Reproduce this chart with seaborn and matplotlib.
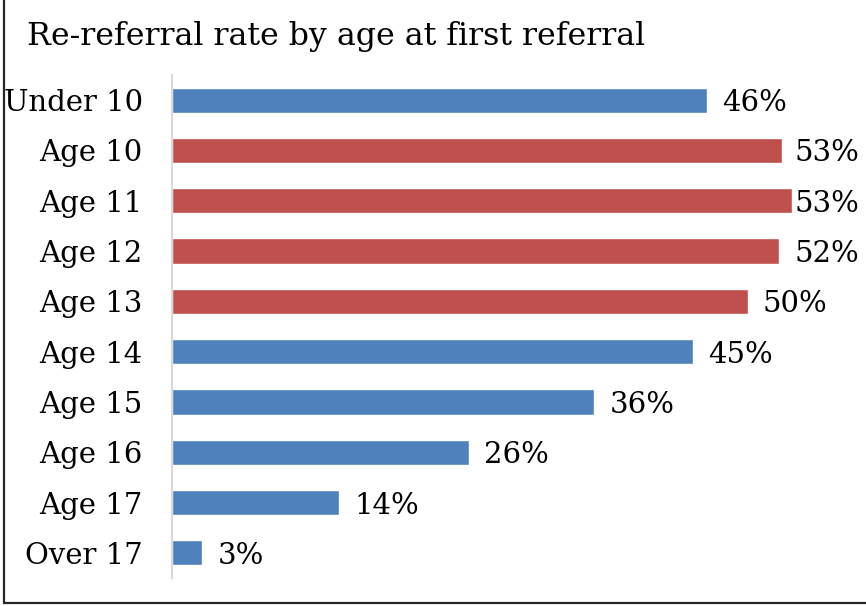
import matplotlib
matplotlib.use('Agg')
import matplotlib.pyplot as plt
import matplotlib.lines as mlines
import pandas as pd
import seaborn as sns

# Dados
ages = ['Under 10', 'Age 10', 'Age 11', 'Age 12', 'Age 13',
        'Age 14', 'Age 15', 'Age 16', 'Age 17', 'Over 17']
rates = [46.1, 52.6, 53.4, 52.3, 49.6, 44.9, 36.4, 25.6, 14.4, 2.6]
groups = ['other', 'peak', 'peak', 'peak', 'peak',
          'other', 'other', 'other', 'other', 'other']

BLUE = '#4F81BD'
RED = '#C0504D'
FS = 21

df = pd.DataFrame({'age': ages, 'rate': rates, 'group': groups})

sns.set_style('white')
plt.rcParams['font.family'] = ['DejaVu Serif']

fig = plt.figure(figsize=(8.66, 6.06), dpi=100)
ax = fig.add_axes([172 / 866, 1 - 578 / 606, 1 - 172 / 866, (578 - 75) / 606])

sns.barplot(data=df, x='rate', y='age', hue='group', orient='h',
            palette={'other': BLUE, 'peak': RED}, width=0.5,
            legend=False, saturation=1, ax=ax)

# Rótulos de valor (presos dentro da área do gráfico, como no Excel)
for i, v in enumerate(rates):
    ax.text(min(v + 1.3, 53.6), i, f'{v:.0f}%', va='center_baseline', ha='left',
            fontsize=FS, color='black')

ax.set_xlim(0, 59.8)
ax.set_ylim(len(ages) - 0.5, -0.5)
ax.set_xlabel('')
ax.set_ylabel('')
ax.set_xticks([])
ax.tick_params(axis='y', length=0, pad=21, labelsize=FS, labelcolor='black')

for side in ['top', 'right', 'bottom']:
    ax.spines[side].set_visible(False)
ax.spines['left'].set_color('#D9D9D9')
ax.spines['left'].set_linewidth(1.5)

fig.text(27 / 866, 1 - 45 / 606, 'Re-referral rate by age at first referral',
         fontsize=22.8, va='baseline', ha='left', color='black')

# Moldura: só a esquerda e a de baixo aparecem no recorte
x0 = 3.5 / 866
y0 = 1 - 602.5 / 606
fig.add_artist(mlines.Line2D([x0, x0], [y0, 1], transform=fig.transFigure,
                             color='#262626', linewidth=1.6))
fig.add_artist(mlines.Line2D([x0, 1], [y0, y0], transform=fig.transFigure,
                             color='#262626', linewidth=1.6))

fig.savefig('out.png', dpi=100)
